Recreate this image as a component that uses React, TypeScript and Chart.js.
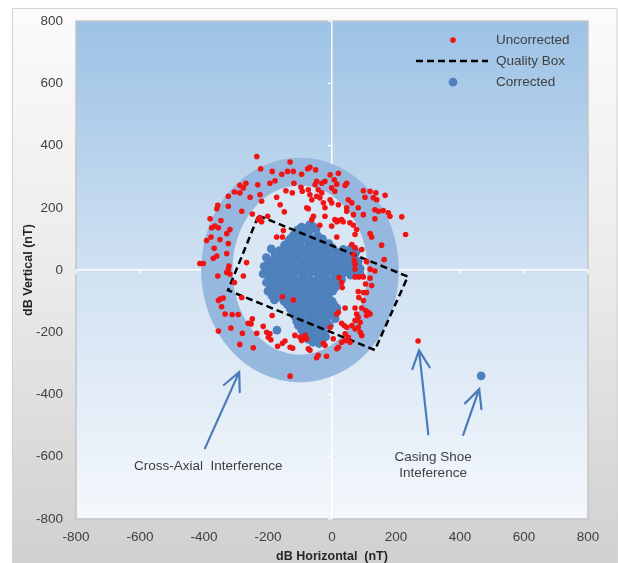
import React, { useEffect, useRef } from "react";
import { Chart, registerables } from "chart.js";

Chart.register(...registerables);

// ---------- data ----------
const axisMin = -800;
const axisMax = 800;
const axisStep = 200;

const xTitle = "dB Horizontal  (nT)";
const yTitle = "dB Vertical (nT)";
const legendLabels = ["Uncorrected", "Quality Box", "Corrected"];

const uncorrected: [number, number][] = [
  [-235, 365], [-131, 347], [-223, 325], [-187, 317], [-157, 308], [-139, 317], [-121, 317], [-95, 308], [-76, 325],
  [-269, 279], [-288, 272], [-277, 264], [-232, 274], [-194, 279], [-178, 287], [-119, 279], [-97, 266], [-93, 253],
  [-305, 251], [-324, 237], [-288, 248], [-256, 234], [-225, 242], [-220, 221], [-173, 234], [-144, 255], [-124, 248], [-162, 210],
  [-357, 208], [-360, 197], [-324, 205], [-282, 189], [-249, 180], [-149, 187], [-74, 197],
  [-381, 165], [-347, 159], [-230, 162], [-220, 155], [-225, 168], [-201, 173],
  [-366, 141], [-376, 136], [-355, 136], [-319, 130], [-329, 117], [-152, 127],
  [-378, 106], [-392, 95], [-350, 98], [-324, 85], [-173, 106], [-155, 106],
  [-368, 70], [-360, 45], [-371, 38], [-329, 53], [-413, 21], [-402, 21], [-267, 24], [-322, 13],
  [-69, 330], [-51, 322], [-6, 306], [20, 311], [7, 290], [15, 276], [-1, 264], [9, 253], [46, 279], [41, 272],
  [-48, 285], [-53, 274], [-32, 279], [-43, 258], [-22, 285], [-74, 258], [-69, 242], [-63, 226], [-48, 237], [-32, 248], [-38, 232],
  [-6, 226], [-1, 216], [20, 210], [-27, 216], [-22, 200], [51, 226], [62, 216], [46, 200], [46, 189], [82, 200],
  [98, 255], [119, 253], [137, 248], [166, 240], [103, 234], [129, 232], [140, 226],
  [134, 194], [145, 189], [160, 191], [176, 184], [181, 173], [218, 171], [98, 178], [67, 178], [134, 165],
  [-79, 200], [-58, 173], [-63, 162], [-22, 173], [9, 162], [20, 159], [30, 162], [15, 155], [35, 155], [-1, 141], [-38, 144],
  [56, 152], [67, 144], [77, 130], [72, 114], [15, 106], [119, 117], [124, 106], [155, 80], [230, 114],
  [62, 82], [72, 72], [93, 66], [67, 50], [70, 31], [72, 19], [108, 27], [163, 34], [119, 3], [134, -3],
  [-324, 3], [-329, -8], [-319, -13], [-357, -19], [-277, -19], [-305, -40],
  [-350, -93], [-340, -90], [-355, -98], [-282, -88], [-345, -118], [-334, -141], [-312, -143], [-293, -143],
  [-155, -86], [-121, -96], [-187, -146], [-249, -157], [-253, -173], [-262, -171], [-215, -181],
  [-355, -196], [-316, -186], [-280, -203], [-235, -203], [-204, -200], [-199, -216], [-191, -224], [-194, -205],
  [-147, -228], [-155, -235], [-116, -210], [-100, -216], [-95, -226], [-90, -221], [-84, -210],
  [-170, -245], [-131, -248], [-123, -251], [-288, -239], [-246, -250], [-131, -341],
  [72, 3], [72, -22], [84, -22], [22, -24], [30, -40], [98, -22], [119, -26], [105, -45], [124, -50], [32, -56],
  [82, -69], [98, -72], [108, -72], [84, -88], [98, -98], [41, -122], [72, -122], [93, -122],
  [105, -130], [113, -136], [119, -141], [108, -146], [20, -136], [15, -141], [77, -141], [82, -152], [72, -162], [88, -168],
  [30, -171], [38, -178], [46, -184], [62, -178], [72, -189], [82, -184], [-6, -184], [88, -200], [93, -210],
  [41, -205], [51, -216], [41, -226], [30, -232], [56, -232], [4, -221], [-27, -235], [-22, -242], [20, -248], [15, -253],
  [-74, -253], [-69, -258], [-43, -274], [-48, -282], [-17, -277], [-79, -221],
  [269, -228],
];

const corrected: [number, number][] = [
  [-95, 138], [-70, 145], [-50, 132],
  [-108, 128], [-82, 130], [-60, 140],
  [-120, 112], [-95, 118], [-72, 120], [-45, 110],
  [-128, 102], [-100, 105], [-75, 108], [-52, 100], [-30, 100],
  [-135, 95], [-110, 92], [-85, 98], [-60, 88], [-35, 92], [-10, 85],
  [-148, 80], [-122, 82], [-98, 76], [-72, 78], [-48, 75], [-22, 78], [0, 72],
  [-190, 68], [-165, 62], [-140, 70], [-115, 65], [-90, 60], [-65, 68], [-40, 62], [-15, 66], [10, 60], [35, 66], [60, 70], [75, 58],
  [-178, 52], [-152, 55], [-128, 50], [-102, 52], [-78, 50], [-52, 54], [-28, 50], [-2, 52], [22, 50], [48, 54], [70, 48],
  [-205, 40], [-180, 35], [-155, 42], [-130, 38], [-105, 45], [-80, 35], [-55, 40], [-30, 36], [-5, 44], [20, 38], [45, 42], [70, 35], [82, 28],
  [-198, 25], [-172, 28], [-145, 24], [-120, 28], [-95, 22], [-70, 26], [-45, 24], [-20, 28], [5, 22], [30, 26], [55, 24], [78, 20],
  [-212, 12], [-188, 8], [-160, 15], [-135, 10], [-110, 14], [-85, 8], [-60, 16], [-35, 10], [-10, 14], [15, 8], [40, 15], [65, 10], [88, 5],
  [-200, -2], [-178, 2], [-152, -4], [-125, 0], [-100, -2], [-75, 0], [-50, -4], [-25, 2], [-2, -2], [22, 0], [48, -4], [75, -2],
  [-215, -12], [-192, -18], [-168, -14], [-142, -20], [-118, -12], [-92, -18], [-68, -10], [-42, -16], [-18, -12], [8, -18], [32, -12], [58, -16],
  [-195, -28], [-168, -30], [-142, -26], [-118, -30], [-92, -28], [-68, -32], [-44, -28], [-18, -30], [8, -28], [30, -30],
  [-205, -40], [-180, -45], [-155, -38], [-130, -44], [-105, -40], [-80, -46], [-55, -38], [-30, -44], [-5, -40], [20, -46],
  [-190, -55], [-165, -58], [-140, -52], [-115, -56], [-90, -55], [-65, -52], [-40, -58], [-15, -54], [10, -56],
  [-200, -68], [-172, -74], [-148, -66], [-122, -72], [-98, -68], [-72, -74], [-48, -66], [-22, -72], [2, -68],
  [-188, -82], [-160, -86], [-135, -82], [-110, -86], [-85, -82], [-60, -86], [-35, -82], [-12, -85],
  [-180, -96], [-150, -100], [-125, -95], [-100, -102], [-75, -96], [-50, -100], [-25, -94], [0, -100],
  [-140, -110], [-115, -114], [-90, -110], [-65, -114], [-40, -110], [-15, -114], [5, -110],
  [-130, -125], [-105, -128], [-80, -122], [-55, -128], [-30, -124], [-5, -130], [15, -122],
  [-122, -138], [-98, -140], [-72, -136], [-48, -140], [-25, -136], [0, -140],
  [-115, -150], [-90, -156], [-65, -150], [-40, -155], [-15, -150], [10, -156],
  [-110, -165], [-88, -168], [-65, -164], [-42, -168], [-18, -165],
  [-105, -178], [-80, -182], [-55, -178], [-30, -184], [-8, -178],
  [-95, -192], [-72, -195], [-48, -192], [-28, -196],
  [-88, -206], [-62, -212], [-38, -206], [-20, -214],
  [-75, -222], [-50, -220], [-30, -224],
  [-60, -232], [-40, -236],
  [-172, -193], [72, 56], [88, -14],
  [466, -340],
];

const qualityBox: [number, number][] = [
  [-230, 175], [237, -21], [134, -257], [-325, -65], [-230, 175],
];

const ringCenter: [number, number] = [-100, 0];
const ringOuter: [number, number] = [309, 361];
const ringInner: [number, number] = [211, 272];

const arrows: { from: [number, number]; to: [number, number] }[] = [
  { from: [-397, -573], to: [-290, -328] },
  { from: [301, -528], to: [272, -258] },
  { from: [410, -530], to: [460, -383] },
];

const notes: { text: string; at: [number, number] }[] = [
  { text: "Cross-Axial  Interference", at: [-387, -630] },
  { text: "Casing Shoe", at: [316, -602] },
  { text: "Inteference", at: [316, -653] },
];

// ---------- styling ----------
const FONT = "'Liberation Sans', Arial, sans-serif";
const TEXT = "#404040";
const RED = "#f01414";
const BLUE = "#4f81bd";

const decor = {
  id: "decor",
  beforeDraw(chart: any) {
    const { ctx, width, height, chartArea: a } = chart;
    ctx.save();
    ctx.fillStyle = "#ffffff";
    ctx.fillRect(0, 0, width, height);
    const g = ctx.createLinearGradient(0, 8, 0, height);
    g.addColorStop(0, "#fbfbfb");
    g.addColorStop(0.45, "#ececec");
    g.addColorStop(1, "#d0d0d0");
    ctx.fillStyle = g;
    ctx.fillRect(12, 8, width - 12, height - 8);
    ctx.strokeStyle = "#d4d4d4";
    ctx.lineWidth = 1;
    ctx.strokeRect(12.5, 8.5, width - 13.5, height);
    const pg = ctx.createLinearGradient(0, a.top, 0, a.bottom);
    pg.addColorStop(0, "#9cc2e5");
    pg.addColorStop(0.5, "#d0e1f2");
    pg.addColorStop(1, "#f4f8fc");
    ctx.fillStyle = pg;
    ctx.fillRect(a.left, a.top, a.right - a.left, a.bottom - a.top);
    ctx.strokeStyle = "#c4c4c4";
    ctx.lineWidth = 1.5;
    ctx.strokeRect(a.left, a.top, a.right - a.left, a.bottom - a.top);
    ctx.restore();
  },
  beforeDatasetsDraw(chart: any) {
    const { ctx } = chart;
    const xs = chart.scales.x;
    const ys = chart.scales.y;
    const x0 = xs.getPixelForValue(0);
    const y0 = ys.getPixelForValue(0);
    ctx.save();
    ctx.strokeStyle = "#ffffff";
    ctx.lineWidth = 1.2;
    for (let v = axisMin; v <= axisMax; v += axisStep) {
      if (v === 0) continue;
      const py = ys.getPixelForValue(v);
      ctx.beginPath();
      ctx.moveTo(x0 - 4, py);
      ctx.lineTo(x0, py);
      ctx.stroke();
      const px = xs.getPixelForValue(v);
      ctx.beginPath();
      ctx.moveTo(px, y0);
      ctx.lineTo(px, y0 + 4);
      ctx.stroke();
    }
    const cx = xs.getPixelForValue(ringCenter[0]);
    const cy = ys.getPixelForValue(ringCenter[1]);
    const orx = Math.abs(xs.getPixelForValue(ringCenter[0] + ringOuter[0]) - cx);
    const ory = Math.abs(ys.getPixelForValue(ringCenter[1] + ringOuter[1]) - cy);
    const irx = Math.abs(xs.getPixelForValue(ringCenter[0] + ringInner[0]) - cx);
    const iry = Math.abs(ys.getPixelForValue(ringCenter[1] + ringInner[1]) - cy);
    ctx.beginPath();
    ctx.ellipse(cx, cy, orx, ory, 0, 0, Math.PI * 2);
    ctx.fillStyle = "#96b7de";
    ctx.fill();
    ctx.beginPath();
    ctx.ellipse(cx, cy, irx, iry, 0, 0, Math.PI * 2);
    ctx.fillStyle = "#d9e7f5";
    ctx.fill();
    ctx.restore();
  },
  afterDraw(chart: any) {
    const { ctx, chartArea: a } = chart;
    const xs = chart.scales.x;
    const ys = chart.scales.y;
    ctx.save();
    ctx.strokeStyle = "#4a7cbb";
    ctx.lineWidth = 2.2;
    ctx.lineCap = "round";
    for (const ar of arrows) {
      const fx = xs.getPixelForValue(ar.from[0]);
      const fy = ys.getPixelForValue(ar.from[1]);
      const tx = xs.getPixelForValue(ar.to[0]);
      const ty = ys.getPixelForValue(ar.to[1]);
      const ang = Math.atan2(ty - fy, tx - fx);
      const len = 20;
      ctx.beginPath();
      ctx.moveTo(fx, fy);
      ctx.lineTo(tx, ty);
      ctx.moveTo(tx + len * Math.cos(ang + Math.PI - 0.45), ty + len * Math.sin(ang + Math.PI - 0.45));
      ctx.lineTo(tx, ty);
      ctx.lineTo(tx + len * Math.cos(ang + Math.PI + 0.45), ty + len * Math.sin(ang + Math.PI + 0.45));
      ctx.stroke();
    }
    ctx.fillStyle = TEXT;
    ctx.font = `13.5px ${FONT}`;
    ctx.textAlign = "center";
    ctx.textBaseline = "middle";
    for (const n of notes) {
      ctx.fillText(n.text, xs.getPixelForValue(n.at[0]), ys.getPixelForValue(n.at[1]));
    }
    const rowY = [a.top + 19, a.top + 40, a.top + 61];
    const textX = a.right - 92;
    const markX = a.right - 135;
    ctx.textAlign = "left";
    ctx.font = `13.5px ${FONT}`;
    ctx.fillStyle = RED;
    ctx.beginPath();
    ctx.arc(markX, rowY[0], 2.8, 0, Math.PI * 2);
    ctx.fill();
    ctx.strokeStyle = "#000000";
    ctx.lineWidth = 2.5;
    ctx.lineCap = "butt";
    ctx.setLineDash([7, 4]);
    ctx.beginPath();
    ctx.moveTo(a.right - 172, rowY[1]);
    ctx.lineTo(a.right - 100, rowY[1]);
    ctx.stroke();
    ctx.setLineDash([]);
    ctx.fillStyle = BLUE;
    ctx.beginPath();
    ctx.arc(markX, rowY[2], 4.4, 0, Math.PI * 2);
    ctx.fill();
    ctx.fillStyle = TEXT;
    legendLabels.forEach((t, i) => ctx.fillText(t, textX, rowY[i]));
    ctx.restore();
  },
};

export default function App() {
  const ref = useRef<HTMLCanvasElement | null>(null);
  useEffect(() => {
    if (!ref.current) return;
    const zeroGrid = {
      color: (c: any) => (c.tick && c.tick.value === 0 ? "#ffffff" : "rgba(0,0,0,0)"),
      lineWidth: 1.5,
      drawTicks: false,
    };
    const chart = new Chart(ref.current, {
      type: "scatter",
      data: {
        datasets: [
          {
            label: legendLabels[0],
            data: uncorrected.map(([x, y]) => ({ x, y })),
            backgroundColor: RED,
            borderWidth: 0,
            pointRadius: 2.8,
            order: 1,
          },
          {
            label: legendLabels[1],
            data: qualityBox.map(([x, y]) => ({ x, y })),
            showLine: true,
            borderColor: "#000000",
            borderWidth: 2.5,
            borderDash: [7, 4],
            pointRadius: 0,
            fill: false,
            order: 2,
          } as any,
          {
            label: legendLabels[2],
            data: corrected.map(([x, y]) => ({ x, y })),
            backgroundColor: BLUE,
            borderWidth: 0,
            pointRadius: 4.4,
            order: 3,
          },
        ],
      },
      options: {
        animation: false,
        responsive: true,
        maintainAspectRatio: false,
        events: [],
        layout: { padding: { left: 0, top: 16, right: 30, bottom: 0 } },
        plugins: { legend: { display: false }, tooltip: { enabled: false } },
        scales: {
          x: {
            type: "linear",
            min: axisMin,
            max: axisMax,
            ticks: { stepSize: axisStep, color: TEXT, font: { family: FONT, size: 13.5 }, padding: 10 },
            grid: zeroGrid,
            border: { display: false },
            title: {
              display: true,
              text: xTitle,
              color: "#262626",
              font: { family: FONT, size: 12.5, weight: "bold", lineHeight: 1 },
              padding: { top: 0, bottom: 0 },
            },
            afterFit: (s: any) => {
              s.height = 44;
            },
          },
          y: {
            type: "linear",
            min: axisMin,
            max: axisMax,
            ticks: { stepSize: axisStep, color: TEXT, font: { family: FONT, size: 13.5 }, padding: 13 },
            grid: zeroGrid,
            border: { display: false },
            title: {
              display: true,
              text: yTitle,
              color: "#262626",
              font: { family: FONT, size: 12.5, weight: "bold", lineHeight: 1.2 },
              padding: { top: 21, bottom: 0 },
            },
            afterFit: (s: any) => {
              s.width = 76;
            },
          },
        },
      },
      plugins: [decor],
    });
    return () => chart.destroy();
  }, []);
  return (
    <div style={{ position: "absolute", left: 0, top: 0, width: 618, height: 563 }}>
      <canvas ref={ref} />
    </div>
  );
}
